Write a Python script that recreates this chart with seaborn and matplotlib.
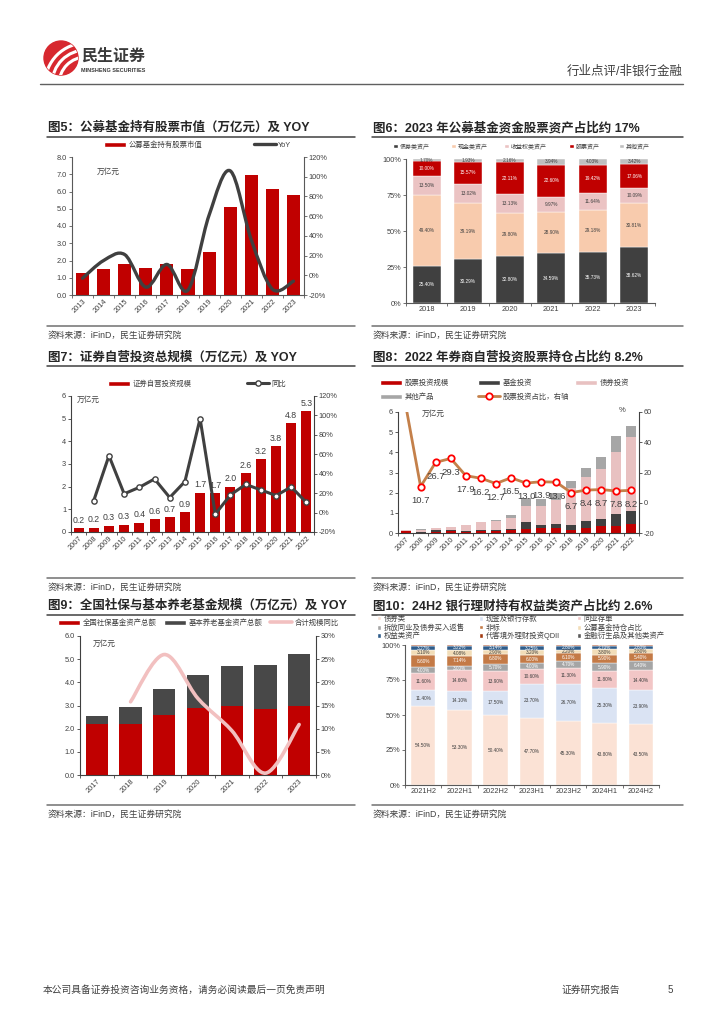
import numpy as np
import pandas as pd
import matplotlib
matplotlib.use('Agg')
import matplotlib.pyplot as plt
import matplotlib.ticker as mticker
from matplotlib.patches import Patch, Circle, Arc, PathPatch
from matplotlib.lines import Line2D
from matplotlib.path import Path
from matplotlib.legend import Legend
import seaborn as sns

sns.set_theme(style='white')
plt.rcParams['font.family'] = ['Liberation Sans', 'Noto Sans CJK SC', 'DejaVu Sans']
plt.rcParams['axes.unicode_minus'] = False

# ---- 图5 公募基金持有股票市值 ----
years5 = ['2013', '2014', '2015', '2016', '2017', '2018', '2019', '2020', '2021', '2022', '2023']
stock_mv = [1.30, 1.50, 1.80, 1.57, 1.77, 1.52, 2.48, 5.10, 6.95, 6.15, 5.77]
stock_yoy = [-3, 15, 21, -12, 11, -15, 61, 106, 36, -14, -6]

# ---- 图6 公募基金资产结构 (%) ----
years6 = ['2018', '2019', '2020', '2021', '2022', '2023']
fund_bond = [25.40, 30.29, 32.80, 34.59, 35.73, 38.62]
fund_cash = [49.40, 39.19, 29.80, 28.90, 29.18, 30.81]
fund_income = [13.50, 13.02, 13.13, 9.97, 11.64, 10.09]
fund_stock = [10.00, 15.57, 22.11, 22.60, 19.42, 17.06]
fund_other = [1.70, 1.93, 2.16, 3.94, 4.03, 3.42]
names6 = ['债券类资产', '现金类资产', '收益权类资产', '股票资产', '其他资产']

# ---- 图7 证券自营投资规模 ----
years7 = ['2007', '2008', '2009', '2010', '2011', '2012', '2013', '2014',
          '2015', '2016', '2017', '2018', '2019', '2020', '2021', '2022']
invest_scale = [0.16, 0.18, 0.27, 0.32, 0.41, 0.56, 0.66, 0.87,
                1.73, 1.70, 2.00, 2.60, 3.22, 3.78, 4.80, 5.32]
invest_yoy = [np.nan, 12.4, 58.5, 19.3, 26.0, 34.6, 15.5, 31.9,
              96.7, -1.6, 18.2, 29.0, 23.3, 17.5, 26.4, 10.4]

# ---- 图8 券商自营投资结构 ----
sec_stock = [0.08, 0.02, 0.07, 0.09, 0.07, 0.09, 0.08, 0.14, 0.22, 0.24, 0.27, 0.17, 0.27, 0.33, 0.37, 0.44]
sec_fund = [0.02, 0.02, 0.06, 0.05, 0.01, 0.04, 0.05, 0.04, 0.31, 0.18, 0.16, 0.23, 0.31, 0.37, 0.59, 0.66]
sec_bond = [0.03, 0.12, 0.10, 0.16, 0.31, 0.40, 0.48, 0.58, 0.83, 0.91, 1.20, 1.81, 2.18, 2.47, 3.08, 3.68]
sec_other = [0.03, 0.02, 0.04, 0.02, 0.02, 0.03, 0.05, 0.11, 0.37, 0.37, 0.37, 0.39, 0.46, 0.61, 0.76, 0.54]
stock_ratio = [65.0, 10.7, 26.7, 29.3, 17.9, 16.2, 12.7, 16.5, 13.0, 13.9, 13.6, 6.7, 8.4, 8.7, 7.8, 8.2]

# ---- 图9 社保与基本养老基金 ----
years9 = ['2017', '2018', '2019', '2020', '2021', '2022', '2023']
ssf_assets = [2.21, 2.22, 2.61, 2.90, 3.00, 2.87, 2.98]
pension_assets = [0.32, 0.73, 1.09, 1.42, 1.71, 1.86, 2.26]
combined_yoy = [np.nan, 15.8, 26.0, 16.5, 9.6, 0.4, 10.9]

# ---- 图10 银行理财资产配置 (%) ----
periods10 = ['2021H2', '2022H1', '2022H2', '2023H1', '2023H2', '2024H1', '2024H2']
wm_bond = [54.50, 53.30, 50.40, 47.70, 45.30, 43.80, 43.50]
wm_cash = [11.40, 14.10, 17.50, 23.70, 26.70, 25.30, 23.90]
wm_cd = [11.60, 14.60, 13.90, 10.60, 11.30, 11.80, 14.40]
wm_repo = [4.00, 3.00, 5.70, 4.00, 4.70, 5.90, 6.40]
wm_nonstd = [8.60, 7.14, 6.80, 6.00, 6.10, 5.90, 5.40]
wm_fund = [3.10, 4.08, 2.90, 3.20, 2.20, 3.80, 2.80]
wm_equity = [3.27, 3.22, 3.14, 3.25, 2.80, 2.70, 2.60]
wm_qdii = [0.20, 0.20, 0.20, 0.20, 0.20, 0.20, 0.20]
wm_deriv = [0.30, 0.30, 0.30, 0.30, 0.30, 0.30, 0.30]
names10 = ['债券类', '现金及银行存款', '同业存单', '拆放同业及债券买入返售', '非标',
           '公募基金持仓占比', '权益类资产', '代客境外理财投资QDII', '金融衍生品及其他类资产']

W, H = 724, 1024
TXT = '#404040'
RED = '#C00000'
DARK = '#404040'
GRID = '#595959'

fig = plt.figure(figsize=(W / 100, H / 100), dpi=100)
bg = fig.add_axes([0, 0, 1, 1], zorder=-1)
bg.set_xlim(0, W)
bg.set_ylim(H, 0)
bg.axis('off')


def box(x0, y0, x1, y1):
    return fig.add_axes([x0 / W, 1 - y1 / H, (x1 - x0) / W, (y1 - y0) / H])


def style(ax, rotate=False, spine=GRID):
    ax.set_facecolor('none')
    ax.grid(False)
    for s in ['top', 'right']:
        ax.spines[s].set_visible(False)
    for s in ['left', 'bottom']:
        ax.spines[s].set_color(spine)
        ax.spines[s].set_linewidth(0.8)
    ax.tick_params(axis='both', labelsize=5.3, labelcolor=TXT, color=spine,
                   length=2, width=0.6, pad=1.5, left=True)
    ax.tick_params(axis='x', length=0, pad=2)
    n = len(ax.get_xticks())
    ax.set_xticks(np.arange(-0.5, n), minor=True)
    ax.tick_params(axis='x', which='minor', length=2.5, color=spine, width=0.6, bottom=True)
    ax.set_xlim(-0.5, n - 0.5)
    ax.set_xlabel('')
    ax.set_ylabel('')
    if rotate:
        for lab in ax.get_xticklabels():
            lab.set_rotation(45)
            lab.set_ha('right')
            lab.set_rotation_mode('anchor')


def style_twin(ax2, spine=GRID):
    for s in ['top', 'left', 'bottom']:
        ax2.spines[s].set_visible(False)
    ax2.spines['right'].set_color(spine)
    ax2.spines['right'].set_linewidth(0.8)
    ax2.tick_params(axis='y', labelsize=5.3, labelcolor=TXT, color=spine,
                    length=2, width=0.6, pad=1.5, right=True)
    ax2.set_ylabel('')
    ax2.grid(False)


def smooth_path(xs, ys):
    # Catmull-Rom curve through the data points, drawn as bezier segments
    pts = np.column_stack([xs, ys]).astype(float)
    verts = [pts[0]]
    codes = [Path.MOVETO]
    for i in range(len(pts) - 1):
        p0 = pts[i - 1] if i > 0 else pts[i]
        p1, p2 = pts[i], pts[i + 1]
        p3 = pts[i + 2] if i + 2 < len(pts) else pts[i + 1]
        verts += [p1 + (p2 - p0) / 6, p2 - (p3 - p1) / 6, p2]
        codes += [Path.CURVE4] * 3
    return Path(verts, codes)


def stack(ax, cats, layers, colors, width, edge='none', lw=0):
    base = np.zeros(len(cats))
    bottoms = []
    for vals, col in zip(layers, colors):
        vals = np.asarray(vals, dtype=float)
        sns.barplot(x=cats, y=vals, bottom=base.copy(), color=col, width=width,
                    saturation=1, errorbar=None, edgecolor=edge, linewidth=lw, ax=ax)
        bottoms.append(base.copy())
        base = base + vals
    return bottoms


def legend_item(handle, label, x, y, fs=5.3, hl=3.0, hh=0.7):
    leg = Legend(bg, [handle], [label], loc='center left', bbox_to_anchor=(x, y),
                 bbox_transform=bg.transData, frameon=False, fontsize=fs,
                 handlelength=hl, handleheight=hh, handletextpad=0.3,
                 borderpad=0, borderaxespad=0, labelcolor=TXT)
    bg.add_artist(leg)


def page_text(ax, x, y, s, fs=5.5, **kw):
    ax.text(x, y, s, transform=bg.transData, fontsize=fs, color=TXT, va='center', **kw)


# ---------------- page header ----------------
logo = Circle((61, 58), 17, color='#D7282F')
bg.add_patch(logo)
for r in [27, 34, 41]:
    a = Arc((86, 84), 2 * r, 2 * r, theta1=180, theta2=270, color='white', lw=2.2)
    a.set_clip_path(logo)
    bg.add_patch(a)
bg.text(81, 56, '民生证券', fontsize=11.5, weight='bold', color='#3A3A3A', va='center')
bg.text(81, 71, 'MINSHENG SECURITIES', fontsize=4, weight='bold', color='#3A3A3A', va='center')
bg.text(683, 72, '行业点评/非银行金融', fontsize=9, color=TXT, ha='right', va='center')
bg.plot([40, 683], [84, 84], color='#606060', lw=1)

titles = [(48, 128, '图5：公募基金持有股票市值（万亿元）及 YOY'),
          (373, 128, '图6：2023 年公募基金资金股票资产占比约 17%'),
          (48, 357, '图7：证券自营投资总规模（万亿元）及 YOY'),
          (373, 357, '图8：2022 年券商自营投资股票持仓占比约 8.2%'),
          (48, 606, '图9：全国社保与基本养老基金规模（万亿元）及 YOY'),
          (373, 606, '图10：24H2 银行理财持有权益类资产占比约 2.6%')]
for x, y, s in titles:
    bg.text(x, y, s, fontsize=9, weight='bold', color='#262626', va='center')
    x0, x1 = (47, 355) if x < 300 else (372, 683)
    bg.plot([x0, x1], [y + 9, y + 9], color='#404040', lw=1.1)

for y in [326, 578, 805]:
    for x0, x1 in [(47, 355), (372, 683)]:
        bg.plot([x0, x1], [y, y], color='#707070', lw=1.1)
        bg.text(x0 + 1, y + 9, '资料来源：iFinD，民生证券研究院', fontsize=6.3, color=TXT, va='center')

bg.text(43, 990, '本公司具备证券投资咨询业务资格，请务必阅读最后一页免责声明', fontsize=7, color=TXT, va='center')
bg.text(562, 990, '证券研究报告', fontsize=7, color=TXT, va='center')
bg.text(668, 990, '5', fontsize=7, color=TXT, va='center')

# ---------------- 图5 ----------------
ax5 = box(72, 157, 304, 295)
sns.barplot(x=years5, y=stock_mv, color=RED, width=0.62, saturation=1,
            errorbar=None, linewidth=0, ax=ax5)
ax5.set_ylim(0, 8)
ax5.set_yticks(np.arange(0, 8.1, 1))
ax5.yaxis.set_major_formatter(mticker.StrMethodFormatter('{x:.1f}'))
style(ax5, rotate=True)
ax5b = ax5.twinx()
ax5b.add_patch(PathPatch(smooth_path(np.arange(len(years5)), stock_yoy),
                         fc='none', ec=DARK, lw=2.4, capstyle='round'))
ax5b.set_ylim(-20, 120)
ax5b.set_yticks(range(-20, 121, 20))
ax5b.yaxis.set_major_formatter(mticker.StrMethodFormatter('{x:.0f}%'))
style_twin(ax5b)
ax5.set_xlim(-0.5, len(years5) - 0.5)
page_text(ax5, 97, 172, '万亿元')
legend_item(Patch(fc=RED), '公募基金持有股票市值', 104, 145)
legend_item(Line2D([], [], color=DARK, lw=2.4), 'YoY', 254, 145)

# ---------------- 图6 ----------------
ax6 = box(406, 159, 655, 303)
layers6 = [fund_bond, fund_cash, fund_income, fund_stock, fund_other]
colors6 = ['#404040', '#F8CBAD', '#EBC3C3', RED, '#BFBFBF']
txtc6 = ['white', TXT, TXT, 'white', TXT]
bot6 = stack(ax6, years6, layers6, colors6, 0.68, edge='white', lw=0.3)
for vals, b, tc in zip(layers6, bot6, txtc6):
    for i, v in enumerate(vals):
        ax6.text(i, b[i] + v / 2, f'{v:.2f}%', ha='center', va='center', fontsize=3.4, color=tc)
ax6.set_ylim(0, 100)
ax6.set_yticks([0, 25, 50, 75, 100])
ax6.yaxis.set_major_formatter(mticker.StrMethodFormatter('{x:.0f}%'))
style(ax6)
for x, name, col in zip([393, 451, 504, 569, 619], names6, colors6):
    legend_item(Patch(fc=col), name, x, 146, fs=4.3, hl=0.8, hh=0.8)

# ---------------- 图7 ----------------
ax7 = box(71, 396, 314, 532)
sns.barplot(x=years7, y=invest_scale, color=RED, width=0.66, saturation=1,
            errorbar=None, linewidth=0, ax=ax7)
for i, v in enumerate(invest_scale):
    ax7.annotate(f'{v:.1f}', (i, v), xytext=(0, 2.5), textcoords='offset points',
                 ha='center', va='bottom', fontsize=6.3, color=TXT)
ax7.set_ylim(0, 6)
ax7.set_yticks(range(0, 7))
style(ax7, rotate=True, spine=DARK)
ax7b = ax7.twinx()
ok7 = ~np.isnan(invest_yoy)
sns.lineplot(x=np.arange(len(years7))[ok7], y=np.asarray(invest_yoy)[ok7], ax=ax7b,
             color=DARK, linewidth=2.2, marker='o', markersize=3.8,
             markerfacecolor='white', markeredgecolor=DARK, markeredgewidth=1.0, errorbar=None)
ax7b.set_ylim(-20, 120)
ax7b.set_yticks(range(-20, 121, 20))
ax7b.yaxis.set_major_formatter(mticker.StrMethodFormatter('{x:.0f}%'))
style_twin(ax7b, spine=DARK)
ax7.set_xlim(-0.5, len(years7) - 0.5)
page_text(ax7, 77, 400, '万亿元')
legend_item(Patch(fc=RED), '证券自营投资规模', 108, 384)
legend_item(Line2D([], [], color=DARK, lw=2.2, marker='o', markersize=3.8,
                   markerfacecolor='white', markeredgecolor=DARK), '同比', 247, 384)

# ---------------- 图8 ----------------
ax8 = box(398, 412, 639, 533)
colors8 = [RED, DARK, '#E8C1C1', '#A6A6A6']
stack(ax8, years7, [sec_stock, sec_fund, sec_bond, sec_other], colors8, 0.66)
ax8.set_ylim(0, 6)
ax8.set_yticks(range(0, 7))
style(ax8, rotate=True, spine=DARK)
ax8b = ax8.twinx()
sns.lineplot(x=np.arange(len(years7)), y=stock_ratio, ax=ax8b, color='#C4804A',
             linewidth=2.0, marker='o', markersize=4.6, markerfacecolor='white',
             markeredgecolor='#FF0000', markeredgewidth=1.3, errorbar=None)
for i, v in enumerate(stock_ratio):
    if v <= 60:
        ax8b.annotate(f'{v:.1f}', (i, v), xytext=(0, -10), textcoords='offset points',
                      ha='center', va='center', fontsize=6.8, color=TXT)
ax8b.set_ylim(-20, 60)
ax8b.set_yticks(range(-20, 61, 20))
style_twin(ax8b, spine=DARK)
ax8.set_xlim(-0.5, len(years7) - 0.5)
page_text(ax8, 422, 414, '万亿元')
page_text(ax8, 619, 411, '%')
legend_item(Patch(fc=colors8[0]), '股票投资规模', 380, 383)
legend_item(Patch(fc=colors8[1]), '基金投资', 478, 383)
legend_item(Patch(fc=colors8[2]), '债券投资', 575, 383)
legend_item(Patch(fc=colors8[3]), '其他产品', 380, 397)
legend_item(Line2D([], [], color='#C4804A', lw=2.0, marker='o', markersize=4.6,
                   markerfacecolor='white', markeredgecolor='#FF0000', markeredgewidth=1.3),
            '股票投资占比，右轴', 478, 397)

# ---------------- 图9 ----------------
ax9 = box(80, 636, 316, 775)
colors9 = [RED, '#484848']
stack(ax9, years9, [ssf_assets, pension_assets], colors9, 0.66)
ax9.set_ylim(0, 6)
ax9.set_yticks(np.arange(0, 6.1, 1))
ax9.yaxis.set_major_formatter(mticker.StrMethodFormatter('{x:.1f}'))
style(ax9, rotate=True, spine=DARK)
ax9b = ax9.twinx()
ok9 = ~np.isnan(combined_yoy)
ax9b.add_patch(PathPatch(smooth_path(np.arange(len(years9))[ok9], np.asarray(combined_yoy)[ok9]),
                         fc='none', ec='#F2C0C0', lw=2.6, capstyle='round'))
ax9b.set_ylim(0, 30)
ax9b.set_yticks(range(0, 31, 5))
ax9b.yaxis.set_major_formatter(mticker.StrMethodFormatter('{x:.0f}%'))
style_twin(ax9b, spine=DARK)
ax9.set_xlim(-0.5, len(years9) - 0.5)
page_text(ax9, 93, 644, '万亿元')
legend_item(Patch(fc=colors9[0]), '全国社保基金资产总额', 58, 623)
legend_item(Patch(fc=colors9[1]), '基本养老基金资产总额', 164, 623)
legend_item(Line2D([], [], color='#F2C0C0', lw=2.6), '合计规模同比', 270, 623)

# ---------------- 图10 ----------------
ax10 = box(405, 645, 659, 785)
raw10 = [wm_bond, wm_cash, wm_cd, wm_repo, wm_nonstd, wm_fund, wm_equity, wm_qdii, wm_deriv]
tot10 = np.sum(np.array(raw10), axis=0)
layers10 = [np.asarray(v) / tot10 * 100 for v in raw10]
colors10 = ['#FBE2D5', '#DAE3F3', '#F2C6C6', '#A5A5A5', '#C47A46',
            '#F2DDB8', '#2E5C8A', '#A33C12', '#595959']
txtc10 = [TXT, TXT, TXT, 'white', 'white', TXT, 'white']
bot10 = stack(ax10, periods10, layers10, colors10, 0.68, edge='white', lw=0.3)
for raw, h, b, tc in zip(raw10[:7], layers10[:7], bot10[:7], txtc10):
    for i, v in enumerate(raw):
        ax10.text(i, b[i] + h[i] / 2, f'{v:.2f}%', ha='center', va='center', fontsize=3.4, color=tc)
ax10.set_ylim(0, 100)
ax10.set_yticks([0, 25, 50, 75, 100])
ax10.yaxis.set_major_formatter(mticker.StrMethodFormatter('{x:.0f}%'))
style(ax10)
for k, (name, col) in enumerate(zip(names10, colors10)):
    row, colno = divmod(k, 3)
    legend_item(Patch(fc=col), name, [377, 479, 577][colno], [619, 628, 636][row],
                fs=5.3, hl=0.6, hh=0.6)

fig.savefig('out.png', dpi=100)
